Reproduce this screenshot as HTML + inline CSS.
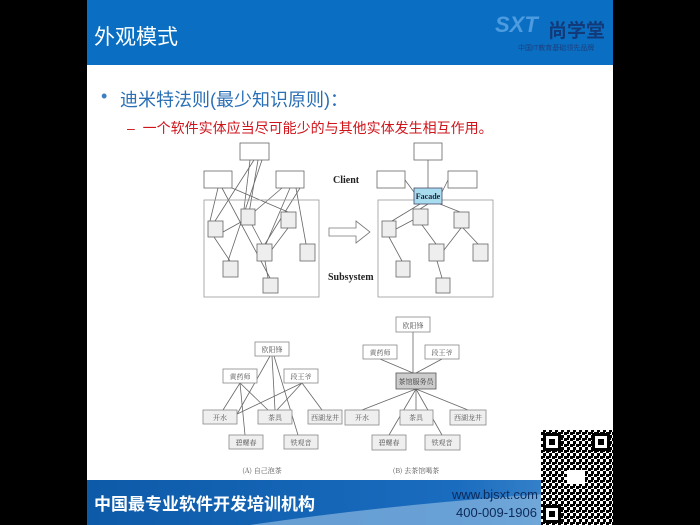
<!DOCTYPE html>
<html><head><meta charset="utf-8"><style>
*{margin:0;padding:0}
body{width:700px;height:525px;background:#000;position:relative;overflow:hidden;font-family:"Liberation Sans","Noto Sans CJK SC",sans-serif}
.slide{position:absolute;left:87px;top:0;width:526px;height:525px;background:#fff}
.hdr{position:absolute;left:87px;top:0;width:526px;height:65px;background:#0a6fc2}
.t{position:absolute;white-space:nowrap}
</style></head><body>
<div class="slide"></div>
<div class="hdr"></div>
<div class="t" style="left:94px;top:21px;font-size:21px;color:#fff">外观模式</div>
<div class="t" style="left:495px;top:12px;font-size:22px;font-weight:bold;font-style:italic;color:#4d9be0">SXT</div>
<div class="t" style="left:548px;top:16px;font-size:19px;font-weight:bold;color:#123a7a">尚学堂</div>
<div class="t" style="left:518px;top:43px;font-size:7px;color:#1d3f80">中国IT教育基础领先品牌</div>
<div class="t" style="left:101px;top:86px;font-size:18px;color:#3a7fc0">•</div>
<div class="t" style="left:120px;top:86px;font-size:18px;color:#2a6fb5">迪米特法则(最少知识原则)：</div>
<div class="t" style="left:127px;top:118px;font-size:14px;color:#d0141b">–&nbsp; 一个软件实体应当尽可能少的与其他实体发生相互作用。</div>

<svg width="700" height="525" style="position:absolute;left:0;top:0" font-family="Liberation Serif,Noto Serif CJK SC,serif">
<g stroke="#666" stroke-width="0.8" fill="none">
<line x1="254" y1="160" x2="215" y2="221"/><line x1="258" y1="160" x2="247" y2="225"/><line x1="262" y1="160" x2="228" y2="261"/><line x1="250" y1="160" x2="244" y2="209"/>
<line x1="218" y1="188" x2="210" y2="221"/><line x1="222" y1="188" x2="270" y2="278"/><line x1="232" y1="188" x2="288" y2="212"/>
<line x1="282" y1="188" x2="254" y2="212"/><line x1="290" y1="188" x2="266" y2="244"/><line x1="296" y1="188" x2="306" y2="244"/><line x1="300" y1="188" x2="265" y2="244"/>
<line x1="223" y1="232" x2="241" y2="222"/><line x1="214" y1="237" x2="230" y2="261"/><line x1="288" y1="228" x2="270" y2="252"/>
<line x1="265" y1="261" x2="268" y2="278"/><line x1="252" y1="225" x2="262" y2="244"/>
<line x1="428" y1="160" x2="428" y2="188"/><line x1="405" y1="180" x2="414" y2="192"/><line x1="448" y1="180" x2="442" y2="192"/>
<line x1="420" y1="204" x2="392" y2="221"/><line x1="428" y1="204" x2="420" y2="209"/><line x1="440" y1="204" x2="460" y2="212"/>
<line x1="396" y1="229" x2="413" y2="220"/><line x1="389" y1="237" x2="402" y2="261"/><line x1="422" y1="225" x2="436" y2="244"/>
<line x1="461" y1="228" x2="444" y2="250"/><line x1="463" y1="228" x2="478" y2="244"/><line x1="437" y1="261" x2="442" y2="278"/>
<line x1="270" y1="356" x2="236" y2="416"/><line x1="272" y1="356" x2="275" y2="410"/><line x1="274" y1="356" x2="298" y2="435"/>
<line x1="240" y1="383" x2="223" y2="410"/><line x1="240" y1="383" x2="245" y2="435"/><line x1="240" y1="383" x2="268" y2="410"/>
<line x1="302" y1="383" x2="233" y2="416"/><line x1="302" y1="383" x2="277" y2="410"/><line x1="302" y1="383" x2="322" y2="410"/>
<line x1="413" y1="332" x2="413" y2="373"/><line x1="380" y1="359" x2="413" y2="373"/><line x1="442" y1="359" x2="416" y2="373"/>
<line x1="416" y1="389" x2="362" y2="410"/><line x1="416" y1="389" x2="389" y2="435"/><line x1="416" y1="389" x2="416" y2="410"/><line x1="416" y1="389" x2="442" y2="435"/><line x1="416" y1="389" x2="468" y2="410"/>
</g>
<g stroke="#999" stroke-width="0.8" fill="none">
<rect x="204" y="200" width="115" height="97"/><rect x="378" y="200" width="115" height="97"/>
</g>
<g stroke="#666" stroke-width="0.8" fill="#fff">
<rect x="240" y="143" width="29" height="17"/><rect x="204" y="171" width="28" height="17"/><rect x="276" y="171" width="28" height="17"/>
<rect x="414" y="143" width="28" height="17"/><rect x="377" y="171" width="28" height="17"/><rect x="448" y="171" width="29" height="17"/>
</g>
<g stroke="#666" stroke-width="0.8" fill="#eee">
<rect x="208" y="221" width="15" height="16"/><rect x="241" y="209" width="14" height="16"/><rect x="281" y="212" width="15" height="16"/><rect x="257" y="244" width="15" height="17"/><rect x="300" y="244" width="15" height="17"/><rect x="223" y="261" width="15" height="16"/><rect x="263" y="278" width="15" height="15"/>
<rect x="382" y="221" width="14" height="16"/><rect x="413" y="209" width="15" height="16"/><rect x="454" y="212" width="15" height="16"/><rect x="429" y="244" width="15" height="17"/><rect x="473" y="244" width="15" height="17"/><rect x="396" y="261" width="14" height="16"/><rect x="436" y="278" width="14" height="15"/>
</g>
<rect x="414" y="188" width="28" height="16" fill="#a8dcef" stroke="#446" stroke-width="0.8"/>
<text x="428" y="199" font-size="8" font-weight="bold" text-anchor="middle" fill="#223">Facade</text>
<text x="333" y="183" font-size="10" font-weight="bold" fill="#222">Client</text>
<text x="328" y="280" font-size="10" font-weight="bold" fill="#222">Subsystem</text>
<path d="M329 228 H356 V221 L370 232 L356 243 V236 H329 Z" fill="#fff" stroke="#777" stroke-width="0.8"/>
<g stroke="#888" stroke-width="0.8" fill="#fff">
<rect x="255" y="342" width="34" height="14"/><rect x="223" y="369" width="34" height="14"/><rect x="284" y="369" width="34" height="14"/>
<rect x="396" y="317" width="34" height="15"/><rect x="363" y="345" width="34" height="14"/><rect x="425" y="345" width="34" height="14"/>
</g>
<g stroke="#888" stroke-width="0.8" fill="#efefef">
<rect x="203" y="410" width="34" height="14"/><rect x="258" y="410" width="34" height="14"/><rect x="308" y="410" width="34" height="14"/><rect x="229" y="435" width="34" height="14"/><rect x="284" y="435" width="34" height="14"/>
<rect x="345" y="410" width="34" height="15"/><rect x="400" y="410" width="33" height="15"/><rect x="450" y="410" width="36" height="15"/><rect x="372" y="435" width="34" height="15"/><rect x="425" y="435" width="35" height="15"/>
</g>
<rect x="396" y="373" width="40" height="16" fill="#ccc" stroke="#555" stroke-width="0.8"/>
<g font-size="7" fill="#555" text-anchor="middle" font-family="Noto Serif CJK SC,serif">
<text x="272" y="352">欧阳锋</text><text x="240" y="379">黄药师</text><text x="301" y="379">段王爷</text>
<text x="220" y="420">开水</text><text x="275" y="420">茶具</text><text x="325" y="420">西湖龙井</text><text x="246" y="445">碧螺春</text><text x="301" y="445">铁观音</text>
<text x="413" y="328">欧阳锋</text><text x="380" y="355">黄药师</text><text x="442" y="355">段王爷</text>
<text x="416" y="384" fill="#333">茶馆服务员</text>
<text x="362" y="420">开水</text><text x="416" y="420">茶具</text><text x="468" y="420">西湖龙井</text><text x="389" y="445">碧螺春</text><text x="442" y="445">铁观音</text>
<text x="262" y="473">(A) 自己泡茶</text><text x="416" y="473">(B) 去茶馆喝茶</text>
</g>
<defs><linearGradient id="fg" x1="0" y1="0" x2="1" y2="0"><stop offset="0" stop-color="#0d5aa8"/><stop offset="0.7" stop-color="#1a6cbf"/><stop offset="1" stop-color="#4a90d0"/></linearGradient>
<pattern id="qr" width="6" height="6" patternUnits="userSpaceOnUse"><rect width="6" height="6" fill="#fff"/><rect x="0" y="0" width="3" height="3" fill="#000"/><rect x="3" y="3" width="3" height="3" fill="#000"/><rect x="3" y="0" width="2" height="2" fill="#000"/></pattern></defs>
<rect x="87" y="480" width="526" height="45" fill="url(#fg)"/>
<path d="M250 525 Q420 500 613 490 V525 Z" fill="#8ab8e0" opacity="0.7"/>
<rect x="541" y="430" width="72" height="95" fill="url(#qr)"/>
<g fill="#000"><rect x="543" y="433" width="18" height="18"/><rect x="592" y="433" width="18" height="18"/><rect x="543" y="505" width="18" height="18"/></g>
<g fill="#fff"><rect x="546" y="436" width="12" height="12"/><rect x="595" y="436" width="12" height="12"/><rect x="546" y="508" width="12" height="12"/><rect x="567" y="470" width="18" height="14"/></g>
<g fill="#000"><rect x="549" y="439" width="6" height="6"/><rect x="598" y="439" width="6" height="6"/><rect x="549" y="511" width="6" height="6"/></g>
</svg>
<div class="t" style="left:94px;top:490px;font-size:17px;color:#fff;font-weight:bold">中国最专业软件开发培训机构</div>
<div class="t" style="left:452px;top:487px;font-size:13px;color:#0c2a5a">www.bjsxt.com</div>
<div class="t" style="left:456px;top:505px;font-size:13px;color:#0c2a5a">400-009-1906</div>
</body></html>
